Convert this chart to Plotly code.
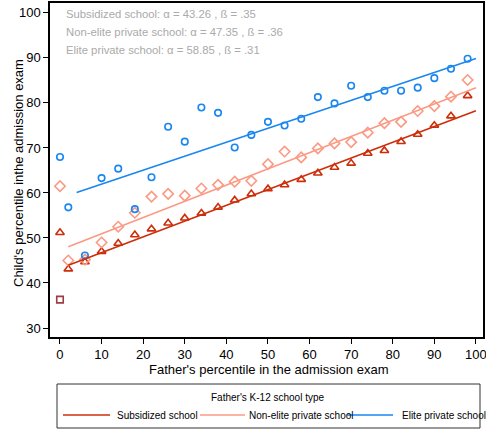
import plotly.graph_objects as go

# Binned father's percentile
x_bins = [0, 2, 6, 10, 14, 18, 22, 26, 30, 34, 38, 42, 46, 50, 54, 58, 62, 66, 70, 74, 78, 82, 86, 90, 94, 98]

subsidized = [51.2, 43.1, 44.7, 47.0, 48.8, 50.7, 52.0, 53.3, 54.4, 55.5, 56.8, 58.4, 59.8, 60.9,
              61.8, 63.0, 64.4, 65.7, 66.6, 68.8, 69.4, 71.4, 73.0, 75.0, 77.1, 81.6]
nonelite = [61.5, 45.0, 45.2, 49.0, 52.5, 55.6, 59.2, 59.8, 59.4, 61.0, 61.8, 62.5, 62.7, 66.4,
            69.2, 67.9, 69.9, 71.0, 71.3, 73.4, 75.5, 75.8, 78.2, 79.3, 81.4, 85.1]
elite = [68.0, 56.8, 46.1, 63.3, 65.4, 56.4, 63.5, 74.7, 71.4, 79.0, 77.8, 70.1, 72.9, 75.8,
         75.0, 76.5, 81.3, 79.9, 83.8, 81.3, 82.7, 82.7, 83.4, 85.5, 87.6, 89.8]

other_x = [0]
other_y = [36.3]

# Fitted lines (endpoints)
sub_fit_x = [2, 100]
sub_fit_y = [43.96, 78.26]
non_fit_x = [2, 100]
non_fit_y = [48.07, 83.35]
eli_fit_x = [4, 100]
eli_fit_y = [60.09, 89.85]

x_ticks = [0, 10, 20, 30, 40, 50, 60, 70, 80, 90, 100]
y_ticks = [30, 40, 50, 60, 70, 80, 90, 100]

series_names = ["Subsidized school", "Non-elite private school", "Elite private school"]
notes = ["Subsidized school: α = 43.26 , ß = .35",
         "Non-elite private school: α = 47.35 , ß = .36",
         "Elite private school: α = 58.85 , ß = .31"]

c_sub = "#cc2e0a"
c_non = "#fb9a84"
c_eli = "#1a86f0"
c_oth = "#9c3c44"
colors = [c_sub, c_non, c_eli]

fig = go.Figure()

for xs, ys, col, sym, sz in [
    (x_bins, subsidized, c_sub, "triangle-up-open", 7.5),
    (x_bins, nonelite, c_non, "diamond-open", 8),
    (x_bins, elite, c_eli, "circle-open", 6.5),
    (other_x, other_y, c_oth, "square-open", 6.5),
]:
    fig.add_trace(go.Scatter(x=xs, y=ys, mode="markers", showlegend=False,
                             marker=dict(symbol=sym, size=sz, color=col,
                                         line=dict(width=1.6, color=col))))

for xs, ys, col, name in [
    (sub_fit_x, sub_fit_y, c_sub, series_names[0]),
    (non_fit_x, non_fit_y, c_non, series_names[1]),
    (eli_fit_x, eli_fit_y, c_eli, series_names[2]),
]:
    fig.add_trace(go.Scatter(x=xs, y=ys, mode="lines", name=name, showlegend=False,
                             line=dict(color=col, width=1.6)))

# Plot-area geometry in pixels (for placing paper-referenced decorations)
L, R, T, B = 50, 483, 3, 337
W, H = R - L, B - T
def px(xp):
    return (xp - L) / W
def py(yp):
    return (B - yp) / H

for i, t in enumerate(notes):
    fig.add_annotation(x=px(64), xref="paper", y=py(14 + i * 18), yref="paper",
                       text=t, showarrow=False, xanchor="left", yanchor="middle",
                       font=dict(size=11.3, color="#aaaaaa"))

# Axis titles
fig.add_annotation(x=px(268), y=py(369), xref="paper", yref="paper", showarrow=False,
                   text="Father's percentile in the admission exam", font=dict(size=13),
                   xanchor="center", yanchor="middle")
fig.add_annotation(x=px(18), y=py(173), xref="paper", yref="paper", showarrow=False,
                   text="Child's percentile inthe admission exam", font=dict(size=13),
                   textangle=-90, xanchor="center", yanchor="middle")

# Legend box
fig.add_shape(type="rect", xref="paper", yref="paper", x0=px(57), x1=px(480), y0=py(428), y1=py(384),
              line=dict(color="#333333", width=1), fillcolor="white", layer="below")
fig.add_annotation(x=px(268), y=py(397), xref="paper", yref="paper", showarrow=False,
                   text="Father's K-12 school type", font=dict(size=10),
                   xanchor="center", yanchor="middle")
leg_lines = [(63, 110), (200, 245), (347, 393)]
leg_text_x = [115, 247, 400]
for (a, b), tx, col, name in zip(leg_lines, leg_text_x, colors, series_names):
    fig.add_shape(type="line", xref="paper", yref="paper", x0=px(a), x1=px(b), y0=py(415), y1=py(415),
                  line=dict(color=col, width=1.6))
    fig.add_annotation(x=px(tx), y=py(415), xref="paper", yref="paper", showarrow=False,
                       text=name, font=dict(size=10), xanchor="left", yanchor="middle")

font = "Liberation Sans, Arial, sans-serif"
fig.update_layout(
    width=486, height=430,
    margin=dict(l=L, r=486 - R, t=T, b=430 - B, autoexpand=False),
    paper_bgcolor="white", plot_bgcolor="white",
    font=dict(family=font, color="black", size=13),
    showlegend=False,
    xaxis=dict(range=[-2.4, 101.7], tickvals=x_ticks,
               showgrid=False, zeroline=False, showline=True, linecolor="black", linewidth=1.5,
               mirror=True, ticks="outside", ticklen=5, tickcolor="black", automargin=False,
               ticklabeloverflow="allow", tickfont=dict(size=13)),
    yaxis=dict(range=[28, 102.2], tickvals=y_ticks,
               showgrid=False, zeroline=False, showline=True, linecolor="black", linewidth=1.5,
               mirror=True, ticks="outside", ticklen=5, tickcolor="black", automargin=False,
               ticklabeloverflow="allow", tickfont=dict(size=13)),
)

fig.write_html("out.html", config={"displayModeBar": False},
               post_script="document.body.style.margin='0';document.body.style.overflow='hidden';")
